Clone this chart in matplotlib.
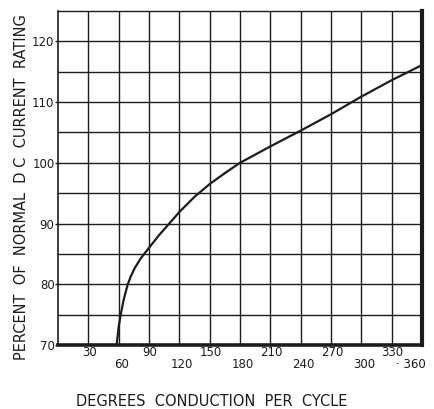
import matplotlib
matplotlib.use("Agg")
import matplotlib.pyplot as plt

# Rating curve: percent of normal DC current rating vs. conduction angle
degrees = [58, 60, 62, 65, 69, 72, 76, 82, 90, 100, 109, 120, 135, 150, 165,
           180, 210, 240, 270, 300, 330, 360]
percent = [70, 73, 75, 77.5, 80, 81.3, 82.7, 84.3, 86.0, 88.1, 89.8, 91.9,
           94.4, 96.5, 98.3, 100, 102.7, 105.3, 108.0, 110.9, 113.6, 116.1]

x_ticks = [30, 60, 90, 120, 150, 180, 210, 240, 270, 300, 330, 360]
x_tick_labels = ["30", "60", "90", "120", "150", "180", "210", "240", "270",
                 "300", "330", "· 360"]
y_ticks = [70, 80, 90, 100, 110, 120]
y_tick_labels = ["70", "80", "90", "100", "110", "120"]

ink = "#1c1c1c"

fig = plt.figure(figsize=(4.34, 4.09), dpi=100)
ax = fig.add_axes([58 / 434, (409 - 345) / 409, (422 - 58) / 434, (345 - 11) / 409])

ax.set_xlim(0, 360)
ax.set_ylim(70, 125)

# grid every 30 degrees and every 5 percent
for gx in range(30, 360, 30):
    ax.axvline(gx, color=ink, lw=1.0, zorder=1)
for gy in range(75, 125, 5):
    ax.axhline(gy, color=ink, lw=1.0, zorder=1)

ax.plot(degrees, percent, color=ink, lw=1.6, zorder=3,
        solid_capstyle="butt", solid_joinstyle="round")

# frame: heavy bottom and right edges
ax.spines["left"].set_linewidth(1.2)
ax.spines["top"].set_linewidth(1.0)
ax.spines["bottom"].set_linewidth(2.6)
ax.spines["right"].set_linewidth(3.0)
for s in ax.spines.values():
    s.set_color(ink)

ax.set_yticks(y_ticks)
ax.set_yticklabels(y_tick_labels, fontsize=8.5, color=ink)
ax.tick_params(axis="y", length=2, width=1, pad=0.5, color=ink)
ax.set_xticks([])

# staggered x tick labels: odd multiples on upper row, even on lower row
for i, (xv, lab) in enumerate(zip(x_ticks, x_tick_labels)):
    upper = (i % 2 == 0)
    dy = -8 if upper else -20
    dx = 1 if upper else 3
    if lab.startswith("·"):
        dx = -11
    ax.annotate(lab, xy=(xv, 0), xycoords=("data", "axes fraction"),
                xytext=(dx * 0.72, dy * 0.72), textcoords="offset points",
                ha="center", va="center", fontsize=8.5, color=ink)

fig.text(212 / 434, 1 - 401 / 409, "DEGREES  CONDUCTION  PER  CYCLE",
         ha="center", va="center", fontsize=10.5, color=ink)
fig.text(22 / 434, 1 - 187 / 409, "PERCENT  OF  NORMAL  D C  CURRENT  RATING",
         ha="center", va="center", rotation=90, fontsize=10.5, color=ink)

fig.savefig("out.png", dpi=100, facecolor="white")
